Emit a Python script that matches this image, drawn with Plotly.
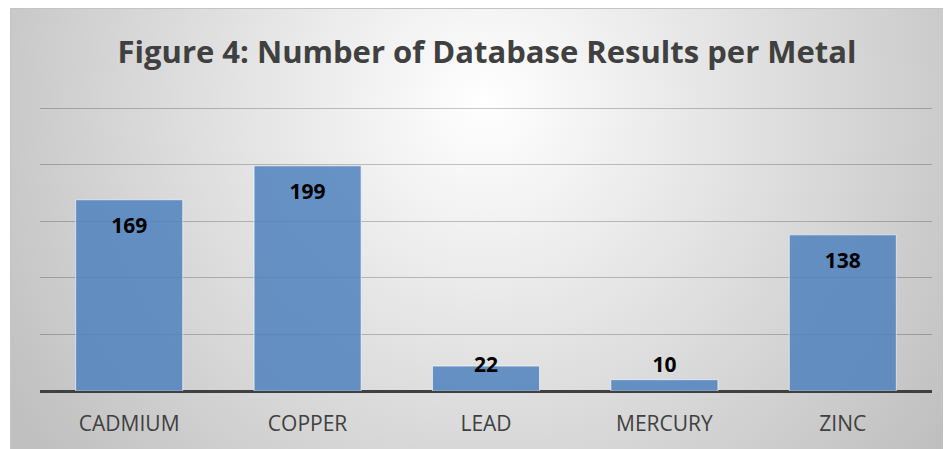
import base64
import plotly.graph_objects as go

metals = ["CADMIUM", "COPPER", "LEAD", "MERCURY", "ZINC"]
results = [169, 199, 22, 10, 138]
y_ticks = [0, 50, 100, 150, 200, 250]

# page body has an 8px margin: the figure is placed at (8, 8)
OFF = 8
W, H = 951 - OFF, 449 - OFF
L, T = 40 - OFF, 107 - OFF
R, B = 951 - 932, 449 - 391
pw, ph = W - L - R, H - T - B

FW, FH = 951 - 10 + 4, 449 - 8 + 4
svg = f'''<svg xmlns="http://www.w3.org/2000/svg" width="{FW}" height="{FH}" viewBox="0 0 {FW} {FH}">
<defs><radialGradient id="g" gradientUnits="userSpaceOnUse" cx="475" cy="95" r="560" fx="475" fy="95">
<stop offset="0%" stop-color="#ffffff"/><stop offset="100%" stop-color="#c0c0c0"/></radialGradient></defs>
<rect x="0.5" y="0.5" width="{FW + 10}" height="{FH + 10}" fill="url(#g)" stroke="#c4c4c4" stroke-width="1"/></svg>'''
src = "data:image/svg+xml;base64," + base64.b64encode(svg.encode()).decode()

label_y = [v - 25 if v > 50 else 21 for v in results]

fig = go.Figure()
fig.add_trace(go.Bar(
    x=metals, y=results,
    marker=dict(color="rgba(79,129,189,0.85)", line=dict(color="rgba(255,255,255,0.6)", width=1)),
    width=0.6, hoverinfo="x+y",
))
fig.add_trace(go.Scatter(
    x=metals, y=label_y, mode="text", text=[str(v) for v in results],
    textfont=dict(family="Open Sans", size=21, color="#000000", weight="bold"),
    textposition="middle center", hoverinfo="skip", showlegend=False,
))

fig.update_layout(
    width=W, height=H,
    margin=dict(l=L, r=R, t=T, b=B),
    paper_bgcolor="#ffffff", plot_bgcolor="rgba(0,0,0,0)",
    showlegend=False,
    title=dict(text="<b>Figure 4: Number of Database Results per Metal</b>",
               x=(487 - OFF) / W, xanchor="center", y=1 - (52 - OFF) / H, yanchor="middle",
               xref="container", yref="container",
               font=dict(family="Open Sans", size=31, color="#404040")),
    images=[dict(source=src, xref="paper", yref="paper",
                 x=(10 - OFF - L) / pw, y=(H - B - (8 - OFF)) / ph,
                 sizex=FW / pw, sizey=FH / ph,
                 xanchor="left", yanchor="top", sizing="stretch", layer="below")],
    xaxis=dict(showgrid=False, zeroline=False, showline=False, ticks="",
               ticklabelstandoff=18,
               tickfont=dict(family="Open Sans", size=21, color="#404040")),
    yaxis=dict(range=[0, 251], tickvals=y_ticks, showticklabels=False,
               showgrid=True, gridcolor="rgba(0,0,0,0.22)", gridwidth=1,
               zeroline=True, zerolinecolor="#404040", zerolinewidth=3,
               showline=False, ticks=""),
)

fig.write_html("out.html")
